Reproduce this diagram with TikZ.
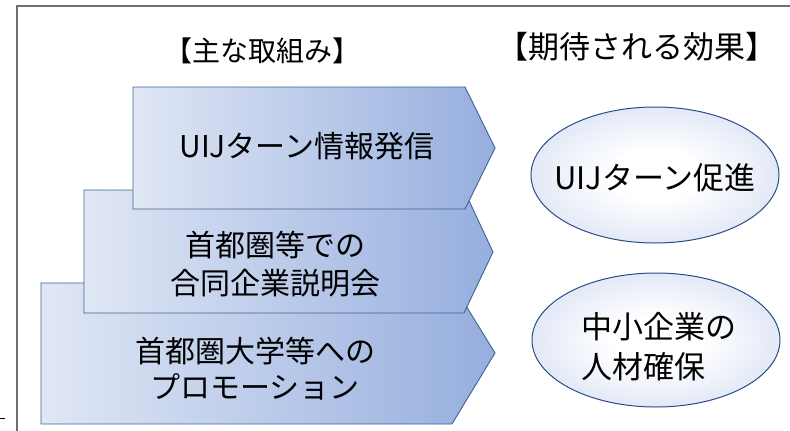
\documentclass[tikz,border=0pt]{standalone}
\usepackage{fontspec}
\setmainfont{Noto Sans CJK JP}
\usetikzlibrary{shapes.geometric}
\definecolor{shapeL}{RGB}{224,231,245}
\definecolor{shapeR}{RGB}{150,174,222}
\definecolor{shapeB}{RGB}{62,98,150}
\definecolor{ellB}{RGB}{44,76,136}
\definecolor{ellOut}{RGB}{182,198,233}
\definecolor{frameC}{RGB}{110,110,110}
\pgfdeclareradialshading{ellshade}{\pgfpoint{0bp}{0bp}}{color(0bp)=(white); color(9bp)=(white); color(50bp)=(ellOut)}
\tikzset{
  chev/.style={left color=shapeL, right color=shapeR, draw=shapeB, line width=0.9pt, line join=miter},
  ell/.style={shading=ellshade, draw=ellB, line width=1pt},
  lbl/.style={text=black, inner sep=0pt, align=center},
}
\begin{document}
\begin{tikzpicture}[x=1pt,y=-1pt]
\useasboundingbox (0,0) rectangle (790,431);
% frame
\draw[frameC, line width=1.2pt] (17,431) -- (17,6) -- (790,6);
\draw[black, line width=1pt] (0,418) -- (5,418);
% titles
\node[lbl, font=\fontsize{28}{32}\selectfont] (t1) at (262,51) {【主な取組み】};
\node[lbl, font=\fontsize{31}{35}\selectfont] (t2) at (637,47) {【期待される効果】};
% chevrons, back to front
\shade[chev] (41,283) -- (452,283) -- (495,353) -- (452,424) -- (41,424) -- cycle;
\shade[chev] (84,190) -- (464,190) -- (493,252) -- (464,313) -- (84,313) -- cycle;
\shade[chev] (133,87) -- (465,87) -- (495,148) -- (465,209) -- (133,209) -- cycle;
\node[lbl, font=\fontsize{30}{36}\selectfont] (a1) at (307,146) {UIJターン情報発信};
\node[lbl, font=\fontsize{30}{38}\selectfont] (a2) at (275,264) {首都圏等での\\合同企業説明会};
\node[lbl, font=\fontsize{30}{36}\selectfont] (a3) at (255,369) {首都圏大学等への\\プロモーション};
% ellipses
\shade[ell] (655,175) ellipse [x radius=124, y radius=68];
\shade[ell] (656,340) ellipse [x radius=124, y radius=67];
\node[lbl, font=\fontsize{31}{38}\selectfont] (e1) at (655,178) {UIJターン促進};
\node[lbl, align=left, anchor=west, font=\fontsize{31}{40}\selectfont] (e2) at (581,347) {中小企業の\\人材確保};
\end{tikzpicture}
\end{document}
